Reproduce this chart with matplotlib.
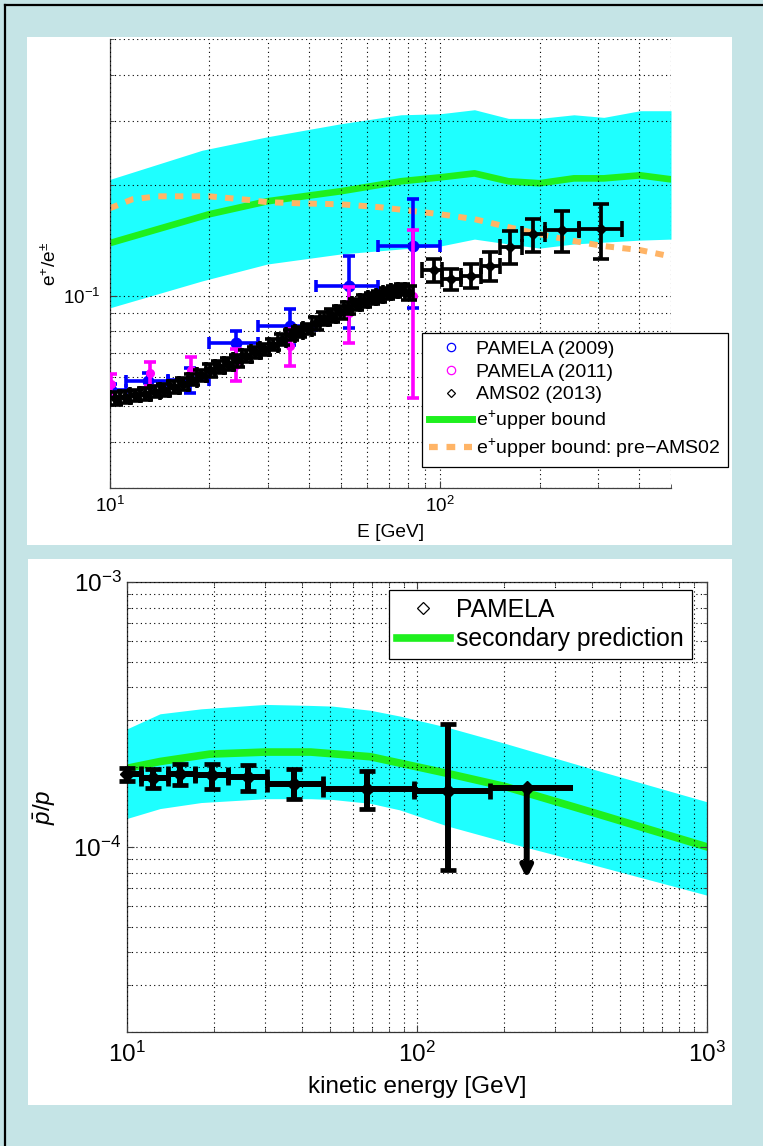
import matplotlib
matplotlib.use('Agg')
import matplotlib.pyplot as plt
from matplotlib.lines import Line2D
from matplotlib.patches import Rectangle
from matplotlib.ticker import NullFormatter
import numpy as np

plt.rcParams['font.family'] = ['Liberation Sans', 'DejaVu Sans']
plt.rcParams['mathtext.fontset'] = 'custom'
plt.rcParams['mathtext.rm'] = 'Liberation Sans'
plt.rcParams['mathtext.it'] = 'Liberation Sans:italic'
plt.rcParams['mathtext.bf'] = 'Liberation Sans:bold'

CYAN = '#1effff'
GREEN = '#1ef01e'
ORANGE = '#ffb466'

# ---------------- top panel data: positron fraction ----------------
band_E = [10, 19, 30, 50, 76, 100, 127, 161, 200, 254, 313, 403, 500]
band_hi = [0.2075, 0.249, 0.271, 0.294, 0.311, 0.313, 0.321, 0.304, 0.304, 0.311, 0.306, 0.319, 0.319]
band_lo = [0.0928, 0.1098, 0.1221, 0.130, 0.1341, 0.1366, 0.1427, 0.1384, 0.1349, 0.1384, 0.140, 0.1418, 0.1427]
bound_E = [10, 20, 30, 50, 76, 100, 127, 161, 200, 254, 313, 403, 500]
bound = [0.1392, 0.1668, 0.1809, 0.1926, 0.205, 0.2101, 0.2154, 0.205, 0.2025, 0.2088, 0.2088, 0.2128, 0.2075]
pre_E = [10, 11.7, 14, 20, 27, 30, 38, 50, 66, 83, 100, 127, 161, 200, 254, 313, 403, 475]
pre = [0.1732, 0.1832, 0.1866, 0.1866, 0.1820, 0.1798, 0.1785, 0.1775, 0.1742, 0.170, 0.1668,
       0.1617, 0.1538, 0.1472, 0.141, 0.1366, 0.1332, 0.1292]

# AMS02 (2013), low-energy bins given by edges
ams_edges = [10.0, 10.73, 11.50, 12.33, 13.21, 14.13, 15.10, 16.13, 17.20, 18.33, 19.52, 20.78,
             22.13, 23.57, 25.10, 26.72, 28.44, 30.25, 32.16, 34.17, 36.29, 38.51, 40.84, 43.28,
             45.83, 48.50, 51.29, 54.21, 57.25, 60.43, 63.74, 67.20, 70.81, 74.56, 78.47, 82.55]
ams_val = [0.0526, 0.0531, 0.0536, 0.0542, 0.0549, 0.0555, 0.0565, 0.0576, 0.0592, 0.0608, 0.0628,
           0.0640, 0.0652, 0.0667, 0.0686, 0.0702, 0.0716, 0.0736, 0.0760, 0.0784, 0.0798, 0.0814,
           0.0842, 0.0866, 0.0884, 0.0902, 0.0928, 0.0948, 0.0968, 0.0986, 0.0996, 0.1018, 0.1030,
           0.1040, 0.1020]
ams_err = [0.002] * 10 + [0.0025] * 12 + [0.0035] * 12 + [0.0045]
# AMS02 high-energy bins
amsh_E = [96, 108, 124, 142, 163, 191, 233, 306]
amsh_lo = [88, 101, 116, 133, 152, 177, 207, 263]
amsh_hi = [101, 116, 133, 152, 177, 207, 263, 355]
amsh_val = [0.1176, 0.1110, 0.1133, 0.1206, 0.1358, 0.1470, 0.1510, 0.1520]
amsh_err = [0.0085, 0.0075, 0.0085, 0.011, 0.014, 0.015, 0.019, 0.026]

# PAMELA (2009)
p09_E = [10.1, 13.0, 17.5, 24.0, 35.2, 53.0, 82.6]
p09_lo = [9.1, 11.2, 15.0, 20.0, 28.0, 42.0, 65.0]
p09_hi = [11.2, 15.0, 20.0, 28.0, 42.0, 65.0, 100.0]
p09_val = [0.0553, 0.0588, 0.0590, 0.0746, 0.0829, 0.1065, 0.1366]
p09_up = [0.0023, 0.0027, 0.0045, 0.0058, 0.0093, 0.0215, 0.047]
p09_dn = [0.0023, 0.0027, 0.0045, 0.0058, 0.0093, 0.0245, 0.044]

# PAMELA (2011)
p11_E = [10.1, 13.2, 17.6, 24.0, 35.2, 53.0, 82.6]
p11_val = [0.0577, 0.0615, 0.0630, 0.0650, 0.0730, 0.0900, 0.1000]
p11_up = [0.0035, 0.0045, 0.0050, 0.0068, 0.0085, 0.0155, 0.051]
p11_dn = [0.0035, 0.0045, 0.0050, 0.0062, 0.0085, 0.0155, 0.0474]

# ---------------- bottom panel data: antiproton ratio ----------------
pb_E = [10, 13, 18, 30, 43, 51, 69, 87, 127, 201, 395, 1000]
pb_hi = [2.79e-4, 3.18e-4, 3.32e-4, 3.45e-4, 3.42e-4, 3.40e-4, 3.28e-4, 3.12e-4, 2.83e-4, 2.46e-4,
         1.98e-4, 1.48e-4]
pb_lo = [1.28e-4, 1.395e-4, 1.47e-4, 1.52e-4, 1.52e-4, 1.51e-4, 1.46e-4, 1.38e-4, 1.20e-4, 1.045e-4,
         8.62e-5, 6.57e-5]
sec_E = [10, 13, 19.3, 30, 43, 69, 127, 201, 395, 1000]
sec = [1.98e-4, 2.10e-4, 2.24e-4, 2.28e-4, 2.28e-4, 2.19e-4, 1.895e-4, 1.69e-4, 1.358e-4, 1.0e-4]

pam_E = [10.0, 12.3, 15.2, 19.6, 26.1, 37.6, 67.0, 127.6]
pam_lo = [10.0, 11.2, 13.8, 17.2, 22.3, 30.4, 47.4, 98.0]
pam_hi = [11.2, 13.8, 17.2, 22.3, 30.4, 47.4, 98.0, 178.0]
pam_val = [1.88e-4, 1.815e-4, 1.88e-4, 1.86e-4, 1.83e-4, 1.73e-4, 1.66e-4, 1.62e-4]
pam_up = [0.1e-4, 0.15e-4, 0.17e-4, 0.2e-4, 0.21e-4, 0.23e-4, 0.27e-4, 1.29e-4]
pam_dn = [0.1e-4, 0.15e-4, 0.17e-4, 0.2e-4, 0.21e-4, 0.21e-4, 0.27e-4, 0.80e-4]
# upper-limit point
lim_E, lim_lo, lim_hi = 239.0, 178.0, 345.0
lim_val, lim_end = 1.67e-4, 7.6e-5

W, H = 763, 1146
fig = plt.figure(figsize=(W / 100, H / 100), dpi=100, facecolor='#c5e4e6')

# white panels and frame lines
for (x0, y0, x1, y1) in [(27, 37, 732, 545), (28, 559, 732, 1105)]:
    fig.add_artist(Rectangle((x0 / W, 1 - y1 / H), (x1 - x0) / W, (y1 - y0) / H,
                             transform=fig.transFigure, facecolor='white', edgecolor='none', zorder=-1))
fig.add_artist(Line2D([5 / W, 5 / W], [0, 1 - 5 / H], transform=fig.transFigure, color='k', lw=1.6))
fig.add_artist(Line2D([5 / W, 1], [1 - 5 / H, 1 - 5 / H], transform=fig.transFigure, color='k', lw=1.6))

gridkw = dict(color='k', ls=(0, (1, 3)), lw=0.8)

# ---------------- top axes ----------------
ax1 = fig.add_axes([110 / W, 1 - 488 / H, 561 / W, 449 / H])
ax1.set_xscale('log')
ax1.set_yscale('log')
ax1.fill_between(band_E, band_lo, band_hi, color=CYAN, lw=0, zorder=1)
ax1.plot(bound_E, bound, color=GREEN, lw=4.8, zorder=2)
ax1.plot(pre_E, pre, color=ORANGE, lw=4.3, dashes=(1.4, 1.4), zorder=2.2)

ax1.errorbar(p09_E, p09_val, yerr=[p09_dn, p09_up],
             xerr=[np.array(p09_E) - np.array(p09_lo), np.array(p09_hi) - np.array(p09_E)],
             fmt='o', color='#0000ff', ms=7.5, elinewidth=2.6, capsize=4.5, capthick=2.6, zorder=3)
ax1.errorbar(p11_E, p11_val, yerr=[p11_dn, p11_up], fmt='o', color='#ff00ff', ms=5.5,
             elinewidth=2.6, capsize=4.5, capthick=2.6, zorder=3.2)

edges = np.array(ams_edges)
ams_E = np.sqrt(edges[:-1] * edges[1:])
ax1.errorbar(ams_E, ams_val, yerr=ams_err, xerr=[ams_E - edges[:-1], edges[1:] - ams_E],
             fmt='D', color='k', ms=5.5, elinewidth=2.7, capsize=6, capthick=2.6, zorder=3.5)
ax1.errorbar(amsh_E, amsh_val, yerr=amsh_err,
             xerr=[np.array(amsh_E) - np.array(amsh_lo), np.array(amsh_hi) - np.array(amsh_E)],
             fmt='D', color='k', ms=5.5, elinewidth=2.7, capsize=6, capthick=2.6, zorder=3.5)

ax1.set_xlim(10, 500)
ax1.set_ylim(0.03, 0.5)
ax1.set_axisbelow(False)
ax1.grid(True, which='both', **gridkw)
ax1.spines['top'].set_visible(False)
ax1.spines['right'].set_visible(False)
for s in ['left', 'bottom']:
    ax1.spines[s].set_color('0.25')
    ax1.spines[s].set_linewidth(0.9)
ax1.tick_params(which='both', direction='in', top=False, right=False, color='0.25', labelsize=13.5)
ax1.tick_params(which='major', length=5)
ax1.tick_params(which='minor', length=3)
ax1.tick_params(axis='x', pad=6)
ax1.tick_params(axis='y', pad=7)
ax1.xaxis.set_minor_formatter(NullFormatter())
ax1.yaxis.set_minor_formatter(NullFormatter())
ax1.set_xlabel('E [GeV]', fontsize=13.8)
ax1.set_ylabel(r'e$^{+}$/e$^{\pm}$', fontsize=13.8)
ax1.xaxis.set_label_coords(0.5, -0.08)
ax1.yaxis.set_label_coords(-0.089, 0.5)

h1 = [Line2D([], [], ls='none', marker='o', mfc='none', mec='#0000ff', ms=6, mew=0.9),
      Line2D([], [], ls='none', marker='o', mfc='none', mec='#ff00ff', ms=6, mew=0.9),
      Line2D([], [], ls='none', marker='D', mfc='none', mec='k', ms=4.5, mew=0.9),
      Line2D([], [], color=GREEN, lw=5),
      Line2D([], [], color=ORANGE, lw=4.5, dashes=(1.4, 1.4))]
l1 = ax1.legend(h1, ['PAMELA (2009)', 'PAMELA (2011)', 'AMS02 (2013)', r'e$^{+}$upper bound',
                     r'e$^{+}$upper bound: pre$-$AMS02'],
                loc='upper left', bbox_to_anchor=(422 / W, 1 - 333 / H), bbox_transform=fig.transFigure,
                borderaxespad=0, fontsize=14, frameon=True, fancybox=False, framealpha=1,
                edgecolor='k', borderpad=0.38, labelspacing=0.26, handlelength=2.2, handletextpad=0.2)
l1.get_frame().set_linewidth(0.9)
l1.set_zorder(10)

# ---------------- bottom axes ----------------
ax2 = fig.add_axes([127 / W, 1 - 1032 / H, 580 / W, 450 / H])
ax2.set_xscale('log')
ax2.set_yscale('log')
ax2.fill_between(pb_E, pb_lo, pb_hi, color=CYAN, lw=0, zorder=1)
ax2.plot(sec_E, sec, color=GREEN, lw=5.5, zorder=2)
ax2.errorbar(pam_E, pam_val, yerr=[pam_dn, pam_up],
             xerr=[np.array(pam_E) - np.array(pam_lo), np.array(pam_hi) - np.array(pam_E)],
             fmt='D', color='k', ms=7.5, elinewidth=4.3, capsize=5.6, capthick=3.4, zorder=3, clip_on=False)
ax2.errorbar([lim_E], [lim_val], xerr=[[lim_E - lim_lo], [lim_hi - lim_E]],
             fmt='D', color='k', ms=7.5, elinewidth=4.3, capsize=0, zorder=3)
ax2.annotate('', xy=(lim_E, lim_end), xytext=(lim_E, lim_val),
             arrowprops=dict(arrowstyle='->', lw=4.3, color='k', mutation_scale=16,
                             shrinkA=0, shrinkB=0), zorder=3)

ax2.set_xlim(10, 1000)
ax2.set_ylim(2e-5, 1e-3)
ax2.set_axisbelow(False)
ax2.grid(True, which='both', **gridkw)
for s in ax2.spines.values():
    s.set_color('0.2')
    s.set_linewidth(0.9)
ax2.tick_params(which='both', direction='in', top=True, right=True, color='0.25', labelsize=17.5)
ax2.tick_params(which='major', length=5)
ax2.tick_params(which='minor', length=3)
ax2.tick_params(axis='x', pad=7)
ax2.tick_params(axis='y', pad=4)
ax2.xaxis.set_minor_formatter(NullFormatter())
ax2.yaxis.set_minor_formatter(NullFormatter())
ax2.set_xlabel('kinetic energy [GeV]', fontsize=17.5)
ax2.set_ylabel(r'$\bar{p}/p$', fontsize=17.5)
ax2.xaxis.set_label_coords(0.5, -0.098)
ax2.yaxis.set_label_coords(-0.119, 0.5)

h2 = [Line2D([], [], ls='none', marker='D', mfc='none', mec='k', ms=6.5, mew=0.9),
      Line2D([], [], color=GREEN, lw=5.5)]
l2 = ax2.legend(h2, ['PAMELA', 'secondary prediction'],
                loc='upper left', bbox_to_anchor=(389 / W, 1 - 590 / H), bbox_transform=fig.transFigure,
                borderaxespad=0, fontsize=17.8, frameon=True, fancybox=False, framealpha=1,
                edgecolor='k', borderpad=0.32, labelspacing=0.22, handlelength=2.15, handletextpad=0.25)
l2.get_frame().set_linewidth(0.9)
l2.set_zorder(10)

fig.savefig('out.png', dpi=100, facecolor=fig.get_facecolor())
